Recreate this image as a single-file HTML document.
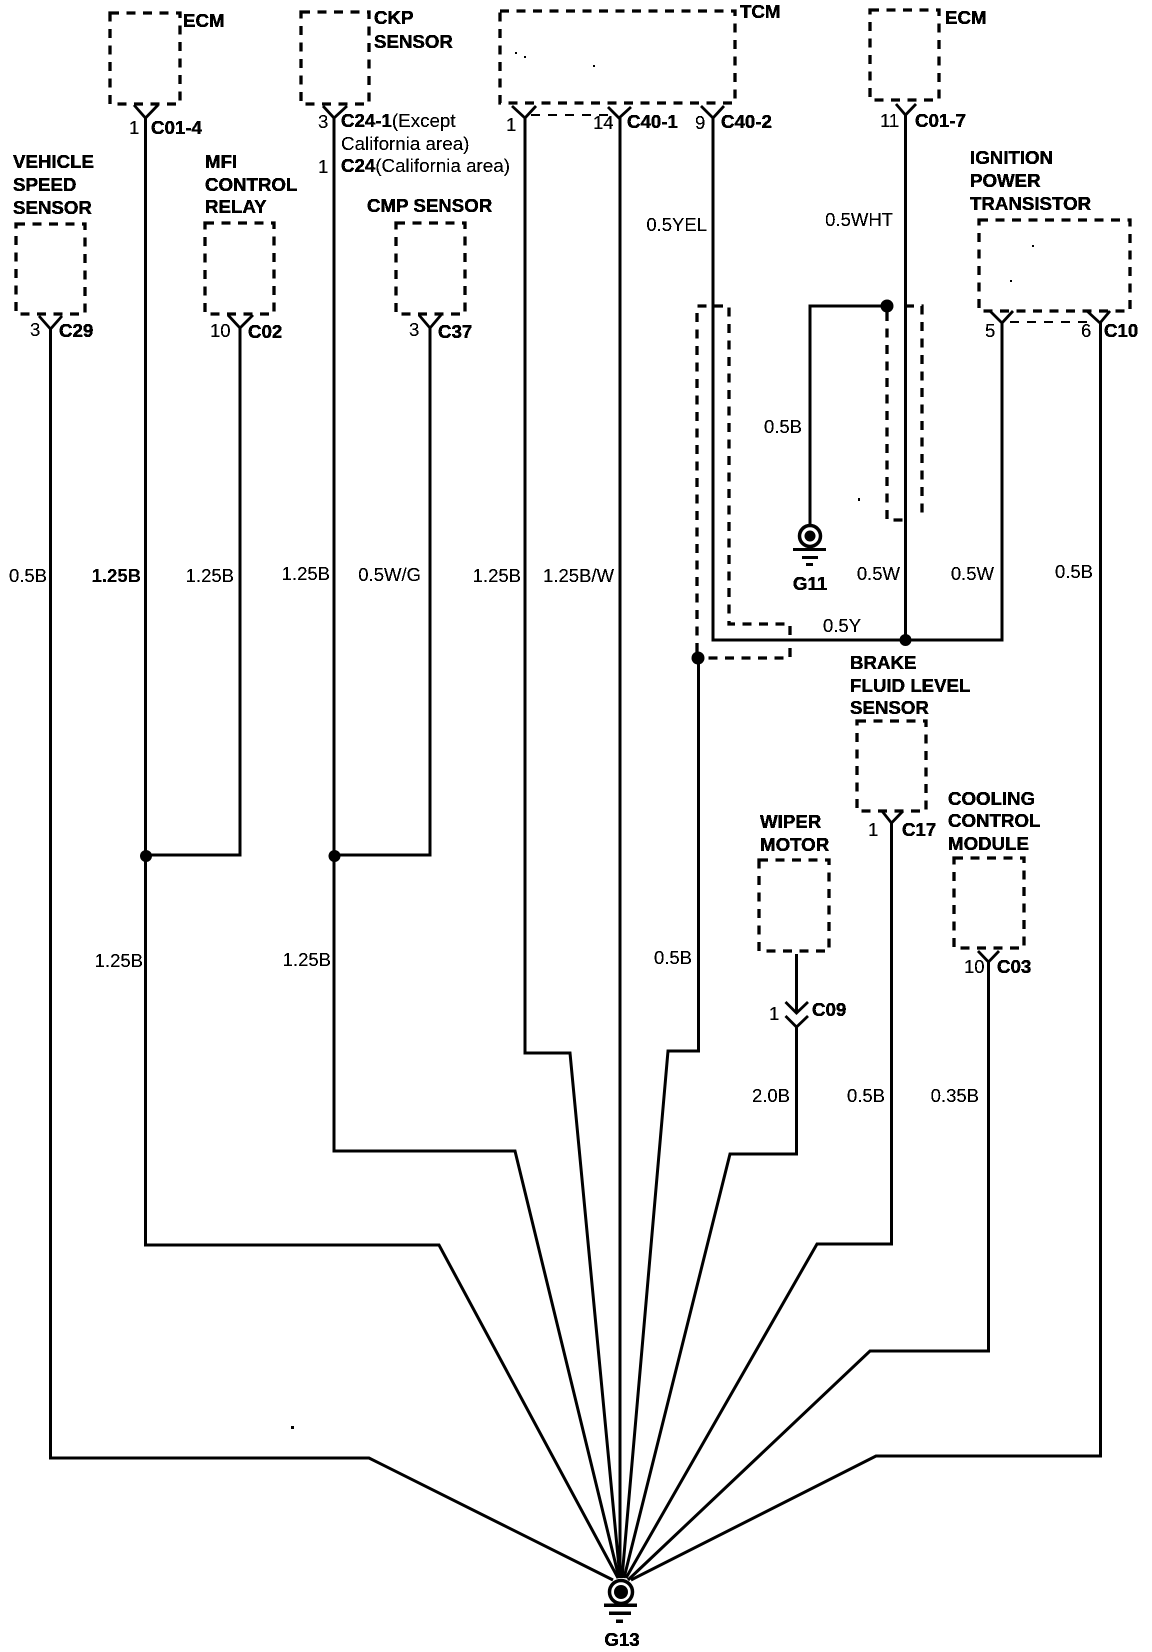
<!DOCTYPE html>
<html><head><meta charset="utf-8"><style>
html,body{margin:0;padding:0;background:#fff}
svg{display:block}
text{font-family:"Liberation Sans",sans-serif;fill:#000;font-size:18.5px}
.b{font-weight:bold;font-size:18.7px;stroke:#000;stroke-width:.25}
.w{fill:none;stroke:#000;stroke-width:3;stroke-linejoin:miter}
.d{fill:none;stroke:#000;stroke-width:3.3;stroke-dasharray:9 7.500}
.t{fill:none;stroke:#000;stroke-width:2.800}
.n{fill:none;stroke:#000;stroke-width:2;stroke-dasharray:9 8}
</style></head><body>
<svg xmlns="http://www.w3.org/2000/svg" width="1152" height="1652" viewBox="0 0 1152 1652">
<defs><filter id="bw" x="0" y="0" width="100%" height="100%" color-interpolation-filters="sRGB"><feComponentTransfer><feFuncA type="discrete" tableValues="0 1 1"/></feComponentTransfer></filter></defs>
<rect width="1152" height="1652" fill="#fff"/>

<!-- dashed component boxes -->
<rect class="d" x="110" y="13" width="70" height="91"/>
<rect class="d" x="301" y="12" width="68" height="92"/>
<rect class="d" x="500" y="11" width="235" height="92"/>
<rect class="d" x="870" y="10" width="69" height="90"/>
<rect class="d" x="16" y="224" width="69" height="90"/>
<rect class="d" x="205" y="223" width="69" height="91"/>
<rect class="d" x="396" y="223" width="69" height="91"/>
<rect class="d" x="979" y="220" width="151" height="91"/>
<rect class="d" x="857" y="721" width="69" height="90"/>
<rect class="d" x="954" y="858" width="70" height="90"/>
<rect class="d" x="759" y="860" width="70" height="91"/>

<!-- Internal dashed lines -->
<path class="d" d="M697 652V306H729V624H790V636"/>
<path class="d" d="M790 648V658H698"/>
<path class="d" d="M887 312V520H905"/>
<path class="d" d="M905 306H922V520"/>
<path class="n" d="M531 115H609"/>
<path class="n" d="M1010 322H1090"/>

<!-- Connector Y shapes -->
<path class="t" d="M134 105L145.500 118L158 105"/>
<path class="t" d="M323 106L334 118L347 106"/>
<path class="t" d="M512 106L525 118L536 106"/>
<path class="t" d="M608 107L619 118L631 107"/>
<path class="t" d="M701 106L713 118L724 106"/>
<path class="t" d="M896 104L905.500 115L916 104"/>
<path class="t" d="M990 311L1002 323L1013 311"/>
<path class="t" d="M1087 311L1100 323L1110 311"/>
<path class="t" d="M39 316L50.500 329L62 316"/>
<path class="t" d="M228 315L240 328L253 315"/>
<path class="t" d="M419 315L430 328L441 315"/>
<path class="t" d="M882 811L891.500 823L903 811"/>
<path class="t" d="M978 951L988.500 962L999 951"/>
<path class="t" d="M785.500 1002L796.500 1013L808 1002"/>
<path class="t" d="M785.500 1016L796.500 1027L808 1016"/>

<!-- Wires to G13 -->
<path class="w" d="M50.500 328V1458H369L613 1580"/>
<path class="w" d="M145.500 117V1245H439L618 1578"/>
<path class="w" d="M334 117V1151H515L619 1578"/>
<path class="w" d="M525 117V1053H570L620 1578"/>
<path class="w" d="M620 117V1578"/>
<path class="w" d="M698.500 658V1051H668L622 1578"/>
<path class="w" d="M796.500 1026V1154H730L624 1578"/>
<path class="w" d="M891.500 822V1244H817L626 1578"/>
<path class="w" d="M988.500 961V1351H870L628 1580"/>
<path class="w" d="M1100.500 322V1456H876L631 1580"/>
<!-- Other wires -->
<path class="w" d="M240 327V855H145"/>
<path class="w" d="M430 327V855H334"/>
<path class="w" d="M713 117V640H1002V322"/>
<path class="w" d="M905.500 114V640"/>
<path class="w" d="M887 306H810V525"/>
<path class="w" d="M796.500 954V1012"/>

<!-- Junctions -->
<circle cx="146" cy="856" r="6"/>
<circle cx="334.500" cy="856" r="6"/>
<circle cx="905.500" cy="640" r="6"/>
<circle cx="698" cy="658" r="6.500"/>
<circle cx="887" cy="306" r="6.500"/>

<!-- G11 -->
<circle cx="810" cy="536" r="10.500" fill="#fff" stroke="#000" stroke-width="3.500"/>
<circle cx="810" cy="536" r="5.500"/>
<rect x="793" y="548" width="33" height="3"/>
<rect x="802" y="556" width="16" height="3"/>
<rect x="806" y="563" width="7" height="3"/>
<!-- G13 -->
<circle cx="621" cy="1592" r="11.500" fill="#fff" stroke="#000" stroke-width="3.500"/>
<circle cx="621" cy="1592" r="7"/>
<rect x="604" y="1603.500" width="33" height="3.500"/>
<rect x="609" y="1611.500" width="22" height="3.500"/>
<rect x="616" y="1619.500" width="7" height="3.500"/>

<!-- specks -->
<rect x="291" y="1426" width="3" height="3"/>
<rect x="515" y="52" width="2" height="2"/>
<rect x="524" y="56" width="2" height="2"/>
<rect x="593" y="65" width="2" height="2"/>
<rect x="1032" y="245" width="2" height="2"/>
<rect x="1010" y="280" width="2" height="2"/>
<rect x="858" y="498" width="2" height="3"/>

<g filter="url(#bw)">
<!-- Bold labels -->
<text class="b" x="183" y="27">ECM</text>
<text class="b" x="374" y="24">CKP</text>
<text class="b" x="374" y="48">SENSOR</text>
<text class="b" x="740" y="18">TCM</text>
<text class="b" x="945" y="24">ECM</text>
<text class="b" x="13" y="168">VEHICLE</text>
<text class="b" x="13" y="191">SPEED</text>
<text class="b" x="13" y="214">SENSOR</text>
<text class="b" x="205" y="168">MFI</text>
<text class="b" x="205" y="191">CONTROL</text>
<text class="b" x="205" y="213">RELAY</text>
<text class="b" x="367" y="212">CMP SENSOR</text>
<text class="b" x="970" y="164">IGNITION</text>
<text class="b" x="970" y="187">POWER</text>
<text class="b" x="970" y="210">TRANSISTOR</text>
<text class="b" x="850" y="669">BRAKE</text>
<text class="b" x="850" y="692">FLUID LEVEL</text>
<text class="b" x="850" y="714">SENSOR</text>
<text class="b" x="948" y="805">COOLING</text>
<text class="b" x="948" y="827">CONTROL</text>
<text class="b" x="948" y="850">MODULE</text>
<text class="b" x="760" y="828">WIPER</text>
<text class="b" x="760" y="851">MOTOR</text>
<text class="b" x="810" y="590" text-anchor="middle">G11</text>
<text class="b" x="622" y="1646" text-anchor="middle">G13</text>

<!-- Connector IDs -->
<text class="b" x="151" y="134">C01-4</text>
<text class="b" x="341" y="127">C24-1<tspan font-weight="normal" font-size="18.800" stroke="none">(Except</tspan></text>
<text x="341" y="150" font-size="18.800" style="font-size:18.800px">California area)</text>
<text class="b" x="341" y="172">C24<tspan font-weight="normal" font-size="18.800" stroke="none">(California area)</tspan></text>
<text class="b" x="59" y="337">C29</text>
<text class="b" x="248" y="338">C02</text>
<text class="b" x="438" y="338">C37</text>
<text class="b" x="627" y="128">C40-1</text>
<text class="b" x="721" y="128">C40-2</text>
<text class="b" x="915" y="127">C01-7</text>
<text class="b" x="1104" y="337">C10</text>
<text class="b" x="902" y="836">C17</text>
<text class="b" x="997" y="973">C03</text>
<text class="b" x="812" y="1016">C09</text>

<!-- Pin numbers -->
<text x="129" y="134">1</text>
<text x="318" y="128">3</text>
<text x="318" y="173">1</text>
<text x="30" y="336">3</text>
<text x="210" y="337">10</text>
<text x="409" y="336">3</text>
<text x="506" y="131">1</text>
<text x="593" y="129">14</text>
<text x="695" y="129">9</text>
<text x="880" y="127">11</text>
<text x="985" y="337">5</text>
<text x="1081" y="337">6</text>
<text x="868" y="836">1</text>
<text x="964" y="973">10</text>
<text x="769" y="1020">1</text>

<!-- Wire labels -->
<text x="47" y="582" text-anchor="end">0.5B</text>
<text x="141" y="582" text-anchor="end" font-weight="bold">1.25B</text>
<text x="234" y="582" text-anchor="end">1.25B</text>
<text x="330" y="580" text-anchor="end">1.25B</text>
<text x="421" y="581" text-anchor="end">0.5W/G</text>
<text x="521" y="582" text-anchor="end">1.25B</text>
<text x="614" y="582" text-anchor="end">1.25B/W</text>
<text x="143" y="967" text-anchor="end">1.25B</text>
<text x="331" y="966" text-anchor="end">1.25B</text>
<text x="707" y="231" text-anchor="end">0.5YEL</text>
<text x="893" y="226" text-anchor="end">0.5WHT</text>
<text x="802" y="433" text-anchor="end">0.5B</text>
<text x="900" y="580" text-anchor="end">0.5W</text>
<text x="994" y="580" text-anchor="end">0.5W</text>
<text x="1093" y="578" text-anchor="end">0.5B</text>
<text x="823" y="632">0.5Y</text>
<text x="692" y="964" text-anchor="end">0.5B</text>
<text x="790" y="1102" text-anchor="end">2.0B</text>
<text x="885" y="1102" text-anchor="end">0.5B</text>
<text x="979" y="1102" text-anchor="end">0.35B</text>
</g>
</svg>
</body></html>
